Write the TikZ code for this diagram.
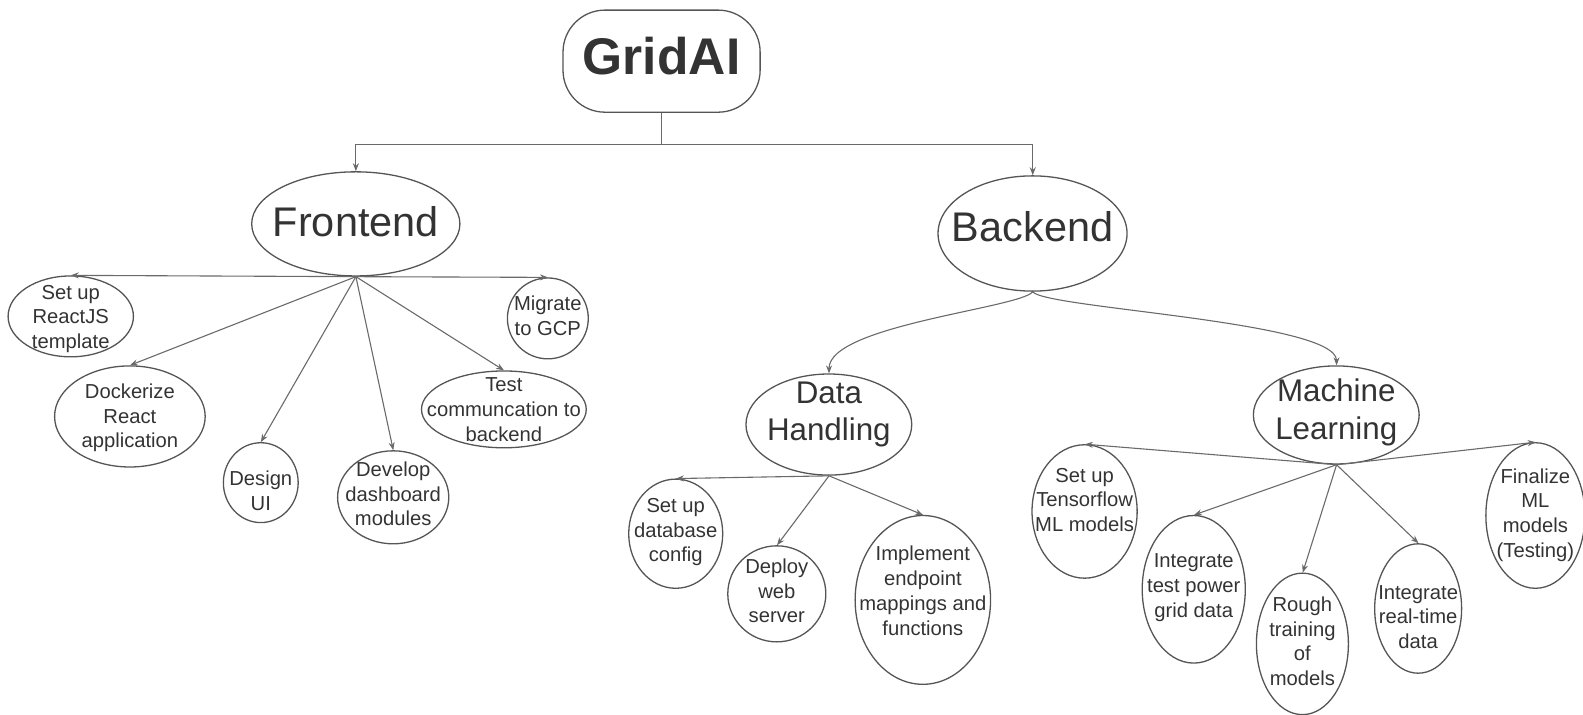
\documentclass[tikz,border=0pt]{standalone}
\usepackage{fontspec}
\setmainfont{Liberation Sans}
\usetikzlibrary{shapes.geometric,arrows.meta}
\definecolor{linec}{HTML}{6A6A6A}
\definecolor{edgec}{HTML}{555555}
\definecolor{textc}{HTML}{333333}
\newcommand\mybub[7]{%
  \node[bub, minimum width=#4pt, minimum height=#5pt] (#1) at (#2,#3) {};
  \node[txt] (#1-t) at (#2,#6+1.5) {#7};}
\begin{document}
\begin{tikzpicture}[x=1pt,y=-1pt,scale=1.0108,transform shape,
  bub/.style={ellipse, draw=edgec, line width=1.3pt, inner sep=0pt},
  txt/.style={align=center, text=textc, inner sep=0pt, font=\fontsize{20}{24.5}\selectfont},
  big/.style={align=center, text=textc, inner sep=0pt, font=\fontsize{41}{46}\selectfont},
  mid/.style={align=center, text=textc, inner sep=0pt, font=\fontsize{31}{37.5}\selectfont},
  arr/.style={draw=linec, line width=1.1pt, -{Stealth[length=8pt,width=6pt]}}]
\useasboundingbox (0,0) rectangle (1566.1,707.35);
% root
\node[draw=edgec, line width=1.3pt, rounded corners=42pt, minimum width=195pt, minimum height=101pt, inner sep=0pt] (grid) at (654.5,60.5) {};
\node[text=textc, inner sep=0pt, font=\fontsize{51}{56}\selectfont\bfseries] (grid-t) at (654.5,55) {GridAI};
% level 1
\node[bub, minimum width=206pt, minimum height=103pt] (fe) at (352,221.5) {};
\node[big] (fe-t) at (352,219.5) {Frontend};
\node[bub, minimum width=187pt, minimum height=114pt] (be) at (1021.5,231) {};
\node[big] (be-t) at (1021.5,224) {Backend};
\coordinate (split) at (654.5,143);
\draw[arr] (grid.south) -- (split) -| (fe.north);
\draw[arr] (split) -| (be.north);
% frontend children
\mybub{react}{70}{313}{124}{80}{314}{Set up\\ReactJS\\template}
\mybub{gcp}{542}{315}{80}{80}{311}{Migrate\\to GCP}
\mybub{docker}{128.5}{412}{149}{100}{412}{Dockerize\\React\\application}
\mybub{design}{258}{477.5}{74}{79}{484}{Design\\UI}
\mybub{dash}{389}{492}{110}{92}{487}{Develop\\dashboard\\modules}
\mybub{test}{498.5}{405}{163}{76}{404}{Test\\communcation to\\backend}
\foreach \c in {react,gcp,docker,design,dash,test}
  \draw[arr] (fe.south) -- (\c.north);
% backend children
\node[bub, minimum width=164pt, minimum height=100pt] (dh) at (820,420) {};
\node[mid] (dh-t) at (820,410) {Data\\Handling};
\node[bub, minimum width=164pt, minimum height=97pt] (ml) at (1322,410.5) {};
\node[mid] (ml-t) at (1322,408) {Machine\\Learning};
\draw[arr] (be.south) .. controls (1008,305) and (820,322) .. (dh.north);
\draw[arr] (be.south) .. controls (1034,305) and (1322,318) .. (ml.north);
% data handling children
\mybub{db}{668.5}{528}{93}{108}{525}{Set up\\database\\config}
\mybub{web}{768.5}{587.5}{97}{95}{583}{Deploy\\web\\server}
\mybub{impl}{913}{593.5}{134}{167}{583}{Implement\\endpoint\\mappings and\\functions}
\foreach \c in {db,web,impl}
  \draw[arr] (dh.south) -- (\c.north);
% machine learning children
\mybub{tf}{1073}{506}{104}{132}{493}{Set up\\Tensorflow\\ML models}
\mybub{itg}{1181}{583}{102}{146}{580}{Integrate\\test power\\grid data}
\mybub{rough}{1288.5}{637}{91}{140}{633}{Rough\\training\\of\\models}
\mybub{rt}{1403}{602}{86}{128}{609}{Integrate\\real-time\\data}
\mybub{fin}{1519}{510}{98}{144}{508}{Finalize\\ML\\models\\(Testing)}
\foreach \c in {tf,itg,rough,rt,fin}
  \draw[arr] (ml.south) -- (\c.north);
\end{tikzpicture}
\end{document}
